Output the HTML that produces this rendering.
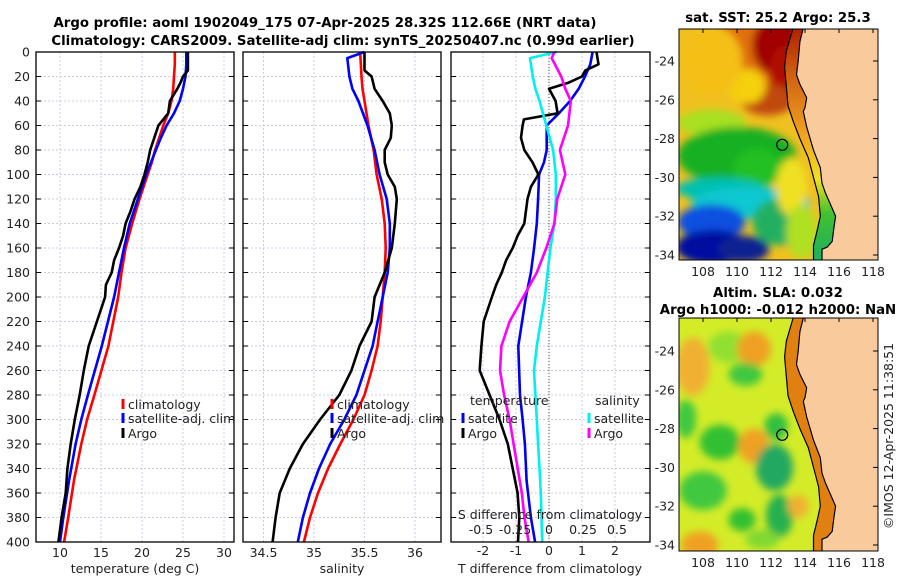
<!DOCTYPE html>
<html><head><meta charset="utf-8"><style>
html,body{margin:0;padding:0;background:#fff;}
svg{display:block;font-family:"DejaVu Sans","Liberation Sans",sans-serif;}
</style></head><body>
<svg id="fig" width="900" height="580" viewBox="0 0 900 580" xmlns="http://www.w3.org/2000/svg">
<defs>
<filter id="blur3" x="-20%" y="-20%" width="140%" height="140%"><feGaussianBlur stdDeviation="4"/></filter>
<clipPath id="clipTop"><rect x="679" y="29" width="199" height="231"/></clipPath>
<clipPath id="clipBot"><rect x="679" y="318" width="199" height="233"/></clipPath>
</defs>
<g font-weight="bold" font-size="13.3" fill="#000" text-anchor="middle">
<text x="325" y="27">Argo profile: aoml 1902049_175 07-Apr-2025 28.32S 112.66E (NRT data)</text>
<text x="343" y="45">Climatology: CARS2009. Satellite-adj clim: synTS_20250407.nc (0.99d earlier)</text>
<text x="778" y="22">sat. SST: 25.2 Argo: 25.3</text>
<text x="778" y="297">Altim. SLA: 0.032</text>
<text x="778" y="314">Argo h1000: -0.012 h2000: NaN</text>
</g>
<g id="grids"></g>
<g id="series"></g>
<g id="axes"></g>
<g id="maps"></g>
<text x="0" y="0" font-size="12.5" fill="#222" text-anchor="middle" transform="translate(893,436) rotate(-90)">©IMOS 12-Apr-2025 11:38:51</text>
</svg>
<script>
// ---- data ----
var depthT = [0,10,20,30,40,50,60,70,80,90,100,120,140,160,180,200,240,280,300,320,350,380,400];
var tempClim = [24.0,24.0,23.9,23.8,23.6,23.2,22.6,22.1,21.6,21.2,20.7,19.7,18.8,18.0,17.5,17.1,15.9,14.2,13.3,12.6,11.7,11.0,10.5];
var tempSat = [25.4,25.4,25.3,25.0,24.6,23.9,23.0,22.3,21.7,21.1,20.5,19.5,18.5,17.8,17.2,16.6,15.1,13.4,12.6,11.9,11.1,10.4,10.0];
var depthA = [0,10,15,20,25,30,40,50,55,60,70,80,90,100,110,120,130,140,150,160,170,180,190,200,220,240,260,280,300,320,340,360,380,400];
var tempArgo = [25.6,25.6,25.6,25.0,24.7,24.3,23.4,23.2,22.6,22.0,21.5,21.0,20.7,20.3,19.8,19.1,18.6,18.0,17.7,17.2,16.6,16.3,15.6,15.5,14.5,13.5,12.9,12.4,11.8,11.3,10.9,10.7,10.2,9.8];
var depthS = [0,5,20,30,40,60,80,100,120,140,160,180,200,220,240,260,280,300,320,340,360,380,400];
var salClim = [35.455,35.46,35.47,35.48,35.50,35.54,35.59,35.62,35.67,35.70,35.71,35.70,35.68,35.66,35.63,35.57,35.50,35.39,35.26,35.14,35.04,34.96,34.90];
var salSat = [35.50,35.33,35.35,35.38,35.44,35.53,35.60,35.65,35.72,35.75,35.75,35.73,35.68,35.63,35.58,35.50,35.42,35.30,35.16,35.05,34.96,34.89,34.84];
var depthSA = [0,15,20,30,40,50,60,70,80,90,100,110,120,140,160,180,200,220,240,260,280,300,320,340,360,380,400];
var salArgo = [35.50,35.50,35.57,35.60,35.68,35.75,35.77,35.76,35.70,35.70,35.73,35.80,35.82,35.80,35.77,35.70,35.60,35.57,35.45,35.37,35.25,35.06,34.89,34.76,34.66,34.62,34.59];
var dTsat = [1.32,1.25,1.09,0.90,0.64,0.30,-0.07,-0.07,-0.07,-0.15,-0.30,-0.33,-0.37,-0.45,-0.55,-0.70,-0.93,-0.88,-0.80,-0.73,-0.68,-0.55,-0.42];
var dTargo = [1.44,1.50,1.10,1.00,0.60,0.00,0.20,0.26,-0.76,-0.80,-0.85,-0.75,-0.50,-0.32,-0.55,-0.65,-0.70,-0.75,-0.95,-1.10,-1.30,-1.43,-1.60,-1.73,-1.98,-2.05,-2.10,-1.80,-1.50,-1.25,-1.10,-0.95,-0.90,-0.94];
var dSsat = [0.056,-0.14,-0.12,-0.10,-0.07,-0.02,0.03,0.05,0.05,0.04,0.01,-0.01,-0.03,-0.06,-0.09,-0.11,-0.10,-0.09,-0.08,-0.07,-0.06,-0.055,-0.05];
var dSargo = [0.04,0.02,0.09,0.12,0.16,0.14,0.08,0.12,0.06,0.04,-0.02,-0.09,-0.19,-0.29,-0.35,-0.36,-0.33,-0.29,-0.26,-0.23,-0.20,-0.18,-0.15];
var depthTicks = [0,20,40,60,80,100,120,140,160,180,200,220,240,260,280,300,320,340,360,380,400];
var tempTicks = [10,15,20,25,30];
var salTicks = [34.5,35,35.5,36];
var dTTicks = [-2,-1,0,1,2];
var dSTicks = [-0.5,-0.25,0,0.25,0.5];
var dSTickLabels = ['-0.5','-0.25','0','0.25','0.5'];
var latTicks = [-24,-26,-28,-30,-32,-34];
var lonTicks = [108,110,112,114,116,118];
var argoLon = 112.66, argoLat = -28.32;

// ---- scales ----
var top0 = 52, bot0 = 542;
function yD(d){ return top0 + d*(bot0-top0)/400; }
function xT(t){ return 60 + (t-10)*8.2; }
function xS(s){ return 314 + (s-35)*101; }
function xDT(t){ return 549 + t*33; }
function xDS(s){ return 549 + s*136; }
function mx(lon){ return 703 + (lon-108)*17; }
function myTop(lat){ return 61 + (-24-lat)*19.4; }
function myBot(lat){ return 351 + (-24-lat)*19.4; }

var NS='http://www.w3.org/2000/svg';
function mk(tag, attrs, parent){ var e=document.createElementNS(NS,tag); for(var k in attrs) e.setAttribute(k,attrs[k]); parent.appendChild(e); return e; }
var G=document.getElementById('grids'), S=document.getElementById('series'), A=document.getElementById('axes'), M=document.getElementById('maps');
var panels=[{x0:36,x1:234},{x0:243,x1:441},{x0:451,x1:650}];

panels.forEach(function(p){
  depthTicks.forEach(function(d){
    var l=mk('line',{x1:p.x0,x2:p.x1,y1:yD(d),y2:yD(d),stroke:'#c8cde8','stroke-width':1,'stroke-dasharray':'2,2'},G);
    
    
  });
});
function vgrid(vals, fx){ vals.forEach(function(v){ var l=mk('line',{x1:fx(v),x2:fx(v),y1:top0,y2:bot0,stroke:'#c8cde8','stroke-width':1,'stroke-dasharray':'2,2'},G);
  
   }); }
vgrid(tempTicks,xT); vgrid(salTicks,xS); vgrid(dTTicks,xDT);
var zl=mk('line',{x1:xDT(0),x2:xDT(0),y1:top0,y2:bot0,stroke:'#555','stroke-width':1,'stroke-dasharray':'1,2'},G);



function line(xs, ds, fx, color, name){
  var pts=xs.map(function(v,i){ return fx(v).toFixed(1)+','+yD(ds[i]).toFixed(1); }).join(' ');
  var pl=mk('polyline',{points:pts,fill:'none',stroke:color,'stroke-width':2.6,'stroke-linejoin':'round'},S);
  
  
}
line(tempClim,depthT,xT,'#ff0000','temp-climatology-line');
line(tempSat,depthT,xT,'#0000ff','temp-satellite-line');
line(tempArgo,depthA,xT,'#000000','temp-argo-line');
line(salClim,depthS,xS,'#ff0000','sal-climatology-line');
line(salSat,depthS,xS,'#0000ff','sal-satellite-line');
line(salArgo,depthSA,xS,'#000000','sal-argo-line');
line(dTsat,depthT,xDT,'#0000ee','dT-satellite-line');
line(dTargo,depthA,xDT,'#000000','dT-argo-line');
line(dSsat,depthS,xDS,'#00f0f0','dS-satellite-line');
line(dSargo,depthS,xDS,'#ff00ff','dS-argo-line');

panels.forEach(function(p,i){
  var r=mk('rect',{x:p.x0,y:top0,width:p.x1-p.x0,height:bot0-top0,fill:'none',stroke:'#000','stroke-width':1.3},A);
  
  
  depthTicks.forEach(function(d){
    mk('line',{x1:p.x0,x2:p.x0+5,y1:yD(d),y2:yD(d),stroke:'#000'},A);
    mk('line',{x1:p.x1-5,x2:p.x1,y1:yD(d),y2:yD(d),stroke:'#000'},A);
  });
});
function txt(s,x,y,opts,name,parent){
  var t=mk('text',{x:x,y:y,'font-size':opts.size||12.5,fill:opts.fill||'#222','text-anchor':opts.anchor||'middle'},parent||A);
  t.textContent=s;
  
  
  return t;
}
depthTicks.forEach(function(d){ txt(String(d),30,yD(d)+4.5,{anchor:'end'},'depth-tick-label'); });
tempTicks.forEach(function(v){ txt(String(v),xT(v),557,{},'temp-tick-label'); });
salTicks.forEach(function(v){ txt(String(v),xS(v),557,{},'sal-tick-label'); });
dTTicks.forEach(function(v){ txt(String(v),xDT(v),555,{},'dT-tick-label'); });
dSTicks.forEach(function(v,i){ txt(dSTickLabels[i],xDS(v),534,{},'dS-tick-label'); });
txt('temperature (deg C)',135,573,{},'temp-axis-title');
txt('salinity',342,573,{},'sal-axis-title');
txt('T difference from climatology',550,573,{},'dT-axis-title');
txt('S difference from climatology',550,519,{},'dS-axis-title');

function leg(x,y,color,label,name){
  var m=mk('rect',{x:x-1.5,y:y-10,width:3,height:10,fill:color},A);
  
  
  txt(label,x+5,y,{anchor:'start'},name);
}
leg(123,409,'#ff0000','climatology','legend-temp-climatology');
leg(123,423,'#0000ff','satellite-adj. clim','legend-temp-satellite');
leg(123,438,'#000','Argo','legend-temp-argo');
leg(332,409,'#ff0000','climatology','legend-sal-climatology');
leg(332,423,'#0000ff','satellite-adj. clim','legend-sal-satellite');
leg(332,438,'#000','Argo','legend-sal-argo');
txt('temperature',470,405,{anchor:'start'},'legend-temperature-heading');
txt('salinity',595,405,{anchor:'start'},'legend-salinity-heading');
leg(463,423,'#0000ee','satellite','legend-dT-satellite');
leg(463,438,'#000','Argo','legend-dT-argo');
leg(589,423,'#00f0f0','satellite','legend-dS-satellite');
leg(589,438,'#ff00ff','Argo','legend-dS-argo');

// ---- maps ----
var coast=[[113.9,-22.3],[113.7,-23.0],[113.6,-24.0],[113.5,-24.7],[113.7,-25.2],[114.1,-25.9],[114.0,-26.4],[113.9,-26.6],[114.1,-27.4],[114.3,-28.0],[114.5,-28.6],[114.9,-29.5],[115.0,-30.3],[115.2,-30.8],[115.6,-31.6],[115.8,-32.0],[115.7,-32.6],[115.6,-33.3],[115.3,-33.6],[115.0,-33.7],[115.0,-34.3]];
var shelf=[[113.3,-22.3],[112.9,-23.5],[112.8,-24.3],[112.9,-25.3],[113.0,-26.3],[113.3,-27.1],[113.7,-28.0],[114.2,-29.0],[114.5,-30.0],[114.8,-31.0],[114.9,-32.0],[114.7,-32.8],[114.5,-33.5],[114.5,-34.3]];
function poly(arr,fy){ return arr.map(function(p){ return mx(p[0]).toFixed(1)+','+fy(p[1]).toFixed(1); }).join(' '); }

function drawMap(fy, clip, y0, y1, blobs, base, strips, name){
  var g=mk('g',{'clip-path':'url(#'+clip+')'},M);
  
  
  mk('rect',{x:679,y:y0,width:199,height:y1-y0,fill:base},g);
  var bg=mk('g',{filter:'url(#blur3)'},g);
  blobs.forEach(function(b){ mk('ellipse',{cx:mx(b[0]),cy:fy(b[1]),rx:b[2]*17,ry:b[3]*19.4,fill:b[4]},bg); });
  var stripPts=shelf.concat(coast.slice().reverse());
  var sg=mk('linearGradient',{id:name+'-strip',x1:0,y1:0,x2:0,y2:1},M);
  strips.forEach(function(s){ mk('stop',{offset:s[0],'stop-color':s[1]},sg); });
  mk('polygon',{points:poly(stripPts,fy),fill:'url(#'+name+'-strip)'},g);
  var land=coast.concat([[119,-34.5],[119,-22]]);
  var lp=mk('polygon',{points:poly(land,fy),fill:'#f9cb9c'},g);
  
  
  mk('polyline',{points:poly(coast,fy),fill:'none',stroke:'#000','stroke-width':1.2},g);
  mk('polyline',{points:poly(shelf,fy),fill:'none',stroke:'#000','stroke-width':1.2},g);
  var c=mk('circle',{cx:mx(argoLon),cy:fy(argoLat),r:5.5,fill:'none',stroke:'#000','stroke-width':1.2},g);
  
  
  var fr=mk('rect',{x:679,y:y0,width:199,height:y1-y0,fill:'none',stroke:'#000','stroke-width':1},M);
  
  
  latTicks.forEach(function(l){
    txt(String(l),675,fy(l)+4.5,{anchor:'end'},'lat-tick-label',M);
    mk('line',{x1:873,x2:878,y1:fy(l),y2:fy(l),stroke:'#000'},M);
  });
  lonTicks.forEach(function(l){
    txt(String(l),mx(l),y1+16,{},'lon-tick-label',M);
    mk('line',{x1:mx(l),x2:mx(l),y1:y0,y2:y0+4,stroke:'#000'},M);
  });
}
var sstBlobs=[
 [111,-23.5,2.5,2.2,'#e07010'],[112.5,-23.2,1.6,1.6,'#a00000'],[112.8,-24.6,0.9,1.4,'#b01000'],[111.8,-26.0,1.6,0.8,'#c04a08'],
 [110.6,-25.3,1.1,0.9,'#f4d010'],[108.5,-24.0,1.8,1.8,'#f4c018'],
 [108.5,-27.2,2.0,0.7,'#a8e020'],[110.0,-28.9,3.5,1.5,'#18b020'],[111.2,-29.5,1.4,1.0,'#20c020'],[109.0,-30.6,2.6,0.6,'#00c0b0'],
 [110.8,-31.3,3.5,0.8,'#10c8d0'],[112.5,-32.3,1.6,1.2,'#20b060'],[108.5,-32.3,2.0,0.9,'#1050e0'],[108.6,-33.6,2.2,0.9,'#0010a0'],[110.4,-33.7,1.5,0.7,'#102090'],
 [113.2,-30.5,0.9,1.5,'#f0e020'],[113.8,-32.8,0.9,1.4,'#b0e020']];
var slaBlobs=[
 [109.5,-23.8,1.2,0.8,'#90e030'],[111.0,-23.9,1.0,0.9,'#f0a020'],[107.4,-24.8,1.0,1.5,'#f0b030'],[110.5,-25.2,1.0,0.6,'#40c840'],
 [107.0,-27.5,0.6,1.0,'#40c840'],[109.0,-28.7,1.2,0.9,'#30c030'],[111.0,-28.9,0.9,0.9,'#f0a020'],[112.3,-27.9,0.7,0.7,'#30c040'],
 [112.2,-30.0,1.1,1.2,'#20a860'],[108.0,-31.2,1.4,1.0,'#40c840'],[112.5,-32.5,0.8,1.1,'#28b050'],[110.3,-32.7,0.8,0.6,'#30c030'],
 [107.8,-34.0,1.1,0.7,'#f0a020'],[111.5,-33.7,1.0,0.5,'#80d830'],[113.6,-32.0,0.6,0.6,'#f0b030']];
drawMap(myTop,'clipTop',29,260,sstBlobs,'#f0c020',[[0,'#b02000'],[0.2,'#d06010'],[0.45,'#f0a020'],[0.65,'#f0e020'],[0.8,'#40c030'],[1,'#20b060']],'sst-map');
drawMap(myBot,'clipBot',318,551,slaBlobs,'#d4ec28',[[0,'#e08010'],[1,'#e08010']],'sla-map');
</script>
</body></html>
